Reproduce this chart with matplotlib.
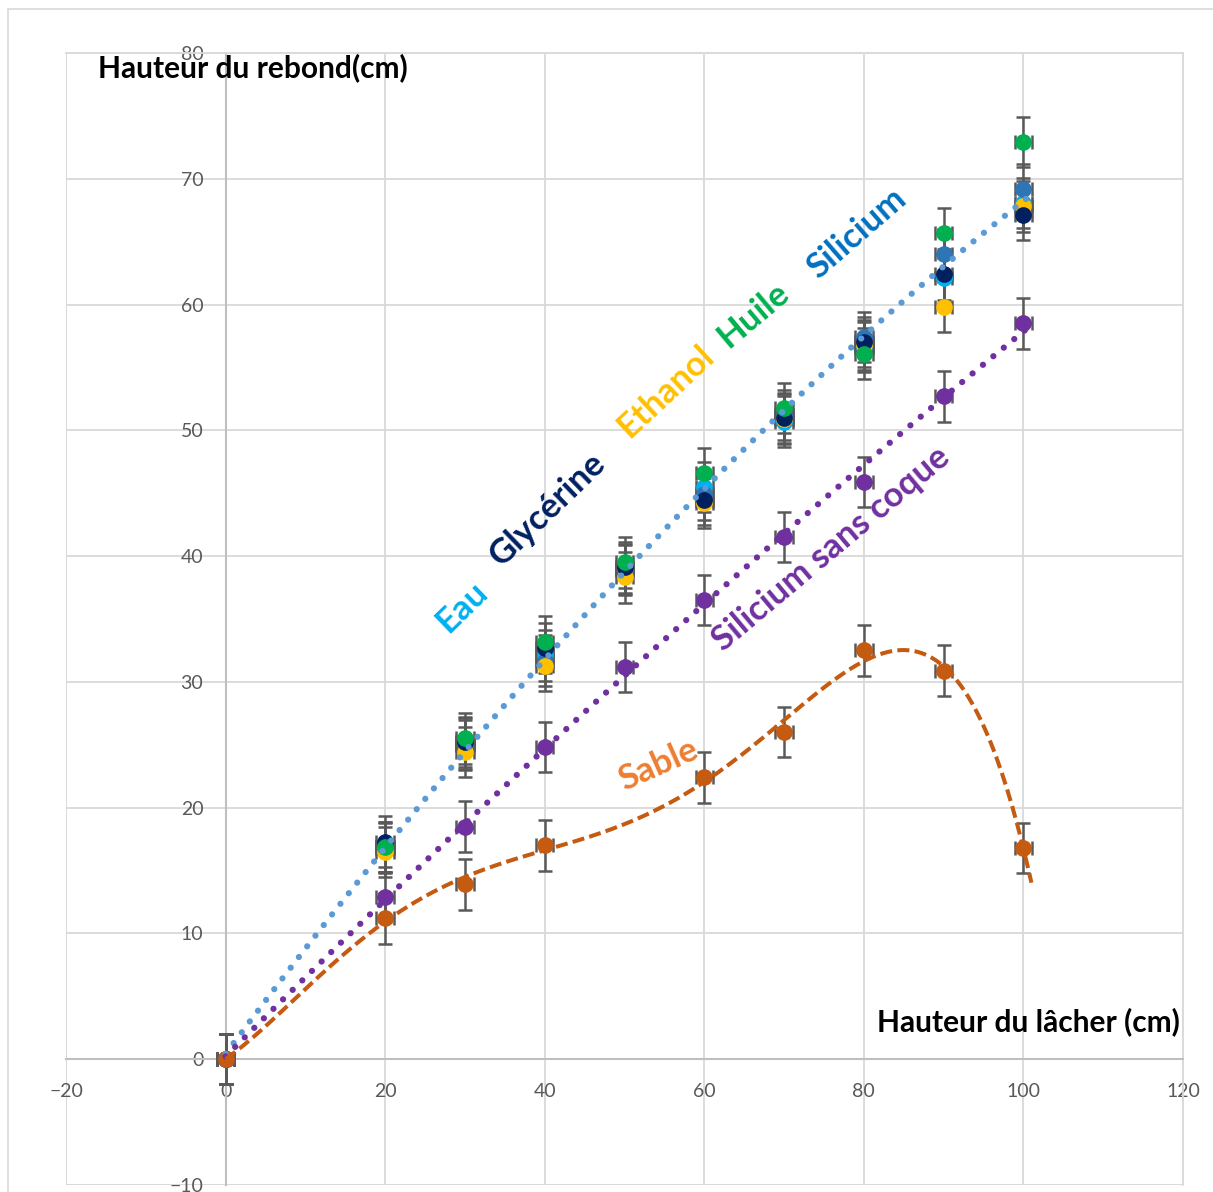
import numpy as np
import matplotlib
matplotlib.use("Agg")
import matplotlib.pyplot as plt
from matplotlib.patches import Rectangle

plt.rcParams['font.family'] = ['Lato', 'DejaVu Sans']

# hauteurs de lâcher (cm)
hauteur = [0, 20, 30, 40, 50, 60, 70, 80, 90, 100]

# hauteurs de rebond (cm) pour chaque remplissage
eau = [0, 16.8, 25.1, 32.1, 39.0, 45.5, 50.7, 56.6, 62.1, 68.1]
glycerine = [0, 17.3, 25.2, 32.7, 39.1, 44.5, 51.0, 57.0, 62.4, 67.1]
ethanol = [0, 16.5, 24.4, 31.3, 38.3, 44.2, 50.9, 56.8, 59.8, 67.8]
huile = [0, 16.9, 25.5, 33.2, 39.5, 46.6, 51.8, 56.1, 65.7, 72.9]
silicium = [0, 16.9, 25.0, 31.7, 38.9, 44.9, 51.2, 57.4, 64.0, 69.2]
sans_coque = [0, 12.9, 18.5, 24.8, 31.2, 36.5, 41.5, 45.9, 52.7, 58.5]

hauteur_sable = [0, 20, 30, 40, 60, 70, 80, 90, 100]
sable = [0, 11.2, 13.9, 17.0, 22.4, 26.0, 32.5, 30.9, 16.8]

err_y = 2
err_x = 1.1

x_ticks = [-20, 0, 20, 40, 60, 80, 100, 120]
y_ticks = [-10, 0, 10, 20, 30, 40, 50, 60, 70, 80]

series = [
    (eau, '#00B0F0'),
    (silicium, '#2E75B6'),
    (ethanol, '#FFC000'),
    (glycerine, '#002060'),
    (huile, '#00B050'),
    (sans_coque, '#7030A0'),
]

fig = plt.figure(figsize=(12.13, 11.92), dpi=100)
ax = fig.add_axes([66 / 1213, 7 / 1192, 1117 / 1213, 1132 / 1192])

# cadre du graphique
fig.patches.append(Rectangle((8 / 1213, -0.05), 1.0, 1.05 - 9 / 1192,
                             transform=fig.transFigure, fill=False,
                             edgecolor='#D9D9D9', linewidth=1.2))

ax.set_xlim(-20, 120)
ax.set_ylim(-10, 80)
ax.set_xticks(x_ticks)
ax.set_yticks(y_ticks)
ax.grid(True, color='#D9D9D9', linewidth=1.3, zorder=0)
ax.set_axisbelow(True)

for side in ['top', 'right']:
    ax.spines[side].set_color('#D9D9D9')
    ax.spines[side].set_linewidth(1.3)
ax.spines['left'].set_position(('data', 0))
ax.spines['bottom'].set_position(('data', 0))
ax.spines['left'].set_color('#BFBFBF')
ax.spines['bottom'].set_color('#BFBFBF')
ax.spines['left'].set_linewidth(1.5)
ax.spines['bottom'].set_linewidth(1.5)
ax.tick_params(length=0, labelsize=14, labelcolor='#595959')
ax.tick_params(axis='x', pad=17)
ax.tick_params(axis='y', pad=16)

# bords gauche/bas du cadre
ax.axvline(-20, color='#D9D9D9', linewidth=1.3, zorder=0)
ax.axhline(-10, color='#D9D9D9', linewidth=1.3, zorder=0)

def points(x, y, color):
    ax.errorbar(x, y, yerr=err_y, xerr=err_x, fmt='o', color=color,
                markersize=11, ecolor='#595959', elinewidth=1.8,
                capsize=5, capthick=1.8, zorder=3)

for y, c in series:
    points(hauteur, y, c)
points(hauteur_sable, sable, '#C55A11')

# courbes de tendance
dots = (0, (0.01, 2.15))
liquides = np.concatenate([eau, glycerine, ethanol, huile, silicium])
x_liq = np.tile(hauteur, 5)
p_liq = np.polyfit(x_liq, liquides, 2)
xs = np.linspace(0, 101, 200)
ax.plot(xs, np.polyval(p_liq, xs), color='#5B9BD5', linewidth=4.5,
        linestyle=dots, dash_capstyle='round', zorder=4)

p_sc = np.polyfit(hauteur, sans_coque, 2)
xs = np.linspace(0, 100.6, 200)
ax.plot(xs, np.polyval(p_sc, xs), color='#7030A0', linewidth=4.5,
        linestyle=dots, dash_capstyle='round', zorder=4)

p_sable = np.polyfit(hauteur_sable, sable, 5)
xs = np.linspace(0, 101, 300)
ax.plot(xs, np.polyval(p_sable, xs), color='#C55A11', linewidth=2.9,
        linestyle=(0, (3, 1.3)), zorder=4)

# noms des séries
labels = [
    ('Eau', 29.6, 36.0, 44, '#00B0F0'),
    ('Glycérine', 40.4, 43.7, 44, '#002060'),
    ('Ethanol', 55.1, 53.1, 43, '#FFC000'),
    ('Huile', 66.1, 59.2, 40, '#00B050'),
    ('Silicium', 79.1, 65.7, 41, '#0070C0'),
    ('Silicium sans coque', 75.9, 40.6, 40, '#7030A0'),
    ('Sable', 54.2, 23.4, 24, '#ED7D31'),
]
for txt, x, y, rot, c in labels:
    ax.text(x, y, txt, rotation=rot, color=c, fontsize=25, fontweight='bold',
            ha='center', va='center', rotation_mode='anchor', zorder=5)

ax.text(-16.0, 78.8, 'Hauteur du rebond(cm)', fontsize=21.5, fontweight='bold',
        ha='left', va='center', zorder=5)
ax.text(81.6, 3.0, 'Hauteur du lâcher (cm)', fontsize=21.5, fontweight='bold',
        ha='left', va='center', zorder=5)

fig.savefig('out.png', dpi=100)
